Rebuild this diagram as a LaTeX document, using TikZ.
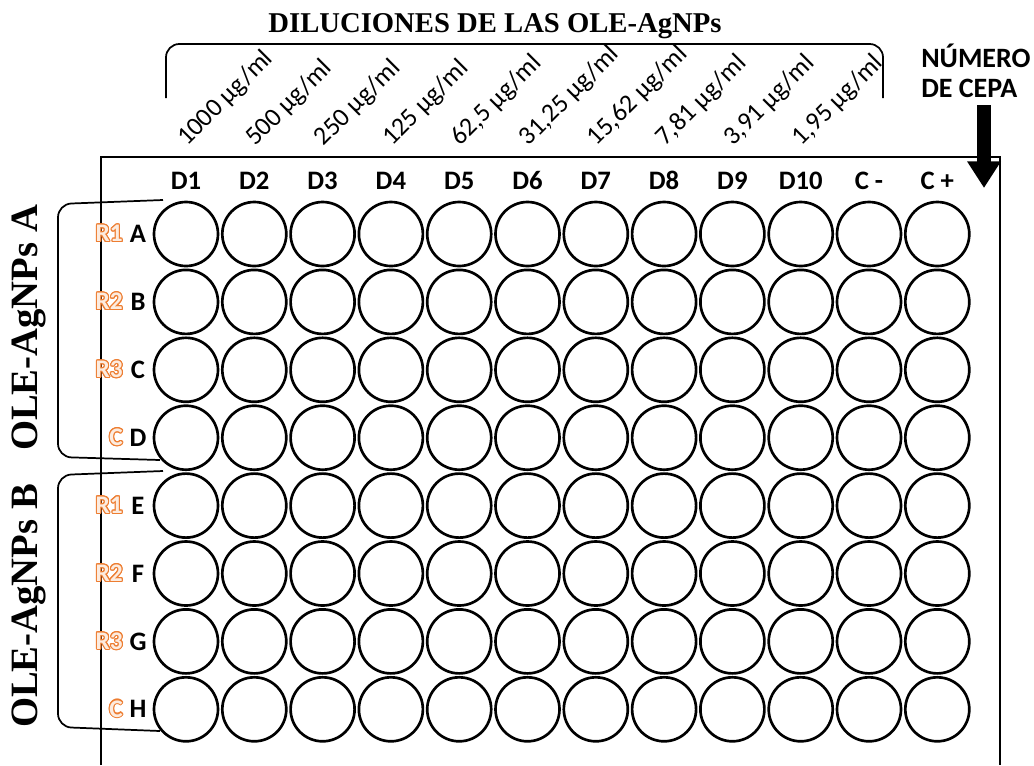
\documentclass[tikz,border=0pt]{standalone}
\usepackage{fontspec}
\setmainfont{Carlito}
\newfontfamily\timesfont{Liberation Serif}
\usepackage{contour}
\contourlength{0.8pt}
\usetikzlibrary{arrows.meta}
\definecolor{repcolor}{RGB}{237,125,49}
% x/y in pixels of the plate picture, y pointing down
\newcommand{\colx}[1]{186+68.3*(#1-1)}
\newcommand{\rowy}[1]{234+67.9*#1}

\begin{document}
\begin{tikzpicture}[x=0.75pt,y=-0.75pt,
  well/.style={circle,draw,line width=2pt,minimum size=48pt,inner sep=0pt},
  colhead/.style={anchor=base,font=\fontsize{20}{22}\selectfont\bfseries},
  rowhead/.style={font=\fontsize{20}{22}\selectfont\bfseries},
  replabel/.style={anchor=east,inner sep=0pt,font=\fontsize{19}{20}\selectfont\bfseries},
  dilution/.style={rotate=45,anchor=base west,inner sep=0pt,font=\fontsize{19.5}{20}\selectfont},
  grouplabel/.style={rotate=90,font=\fontsize{29}{30}\selectfont\timesfont\bfseries},
  bracket/.style={line width=1.3pt,rounded corners=10pt}]
  \useasboundingbox (0,0) rectangle (1034,765);

  % plate outline, open at the bottom
  \draw[line width=1.8pt] (101,765) -- (101,157) -- (1000,157) -- (1000,765);

  % wells, row letters and replicate tags
  \foreach \r/\t [count=\i from 0] in {A/R1,B/R2,C/R3,D/C,E/R1,F/R2,G/R3,H/C}{
    \foreach \c in {1,...,12}
      \node[well] (w-\r-\c) at ({\colx{\c}},{\rowy{\i}}) {};
    \node[rowhead] (row-\r) at (138,{\rowy{\i}}) {\r};
    \node[replabel] (rep-\r) at (123,{\rowy{\i}}) {\contour{repcolor}{\color{repcolor!15}\t}};
  }

  % column heads
  \foreach \t [count=\c] in {D1,D2,D3,D4,D5,D6,D7,D8,D9,D10,C -,C +}
    \node[colhead] (col-\c) at ({\colx{\c}},189) {\t};

  % dilutions
  \foreach \d [count=\c] in {1000,500,250,125,62{,}5,31{,}25,15{,}62,7{,}81,3{,}91,1{,}95}
    \node[dilution] (dil-\c) at ({\colx{\c}+1},147) {\d~µg/ml};
  \draw[bracket] (166,98) -- (166,44) -- (883,44) -- (883,98);
  \node[font=\fontsize{21.5}{23}\selectfont\timesfont\bfseries] (title) at (495,26) {DILUCIONES DE LAS OLE-AgNPs};

  % groups of rows
  \draw[bracket] (163,200) -- (58,204) -- (58,457) -- (160,460);
  \draw[bracket] (163,471) -- (58,475) -- (58,727) -- (160,731);
  \node[grouplabel] (grpA) at (29,328) {OLE-AgNPs A};
  \node[grouplabel] (grpB) at (29,606) {OLE-AgNPs B};

  % strain number
  \node[anchor=base west,inner sep=0pt,font=\fontsize{21}{22}\selectfont\bfseries] (cepa1) at (921,67) {NÚMERO};
  \node[anchor=base west,inner sep=0pt,font=\fontsize{21}{22}\selectfont\bfseries] (cepa2) at (921,97) {DE CEPA};
  \coordinate (arrtop) at (984,105);
  \coordinate (arrtip) at (984,188);
  \draw[line width=11pt,-{Triangle[width=24pt,length=20pt]}] (arrtop) -- (arrtip);
\end{tikzpicture}
\end{document}
